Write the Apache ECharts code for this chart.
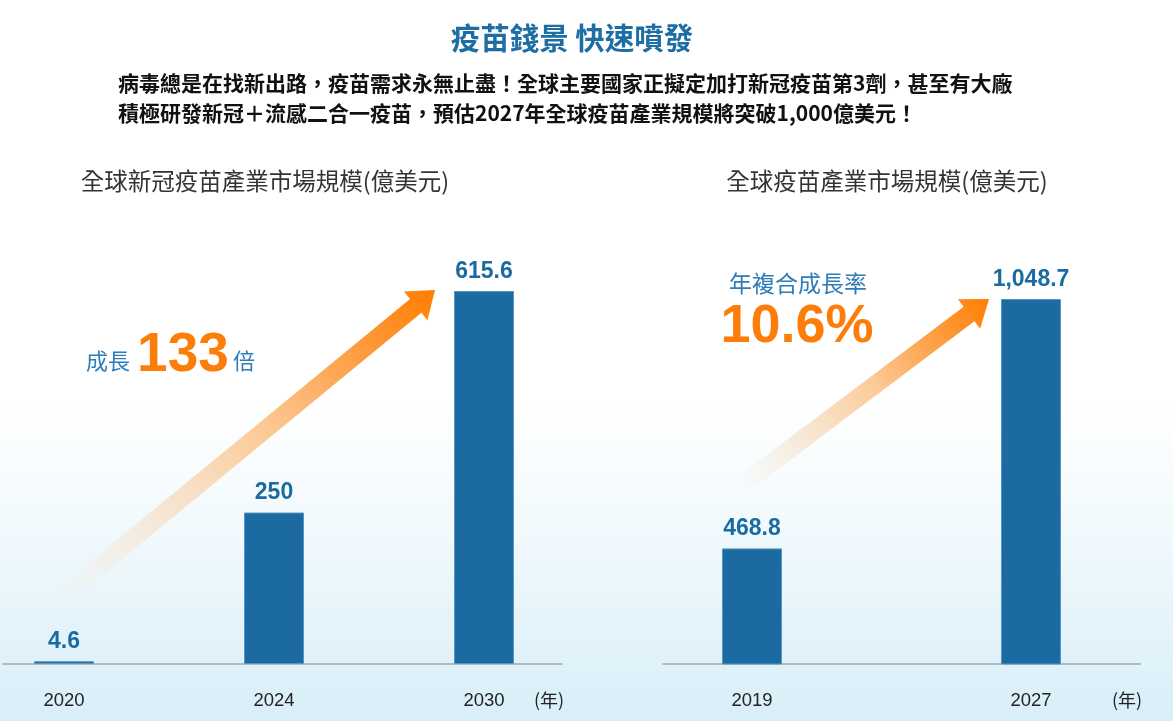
<!DOCTYPE html>
<html>
<head>
<meta charset="utf-8">
<script src="https://cdn.jsdelivr.net/npm/echarts@6/dist/echarts.min.js"></script>
<style>
html,body{margin:0;padding:0;background:#fff;}
#chart{width:1173px;height:721px;}
</style>
</head>
<body>
<div id="chart"></div>
<script>
// ---- data ----
const leftYears = ['2020', '2024', '2030'];
const leftValues = [4.6, 250, 615.6];
const rightYears = ['2019', '2027'];
const rightValues = [468.8, 1048.7];

const mainTitle = '疫苗錢景 快速噴發';
const subLines = [
  '病毒總是在找新出路，疫苗需求永無止盡！全球主要國家正擬定加打新冠疫苗第3劑，甚至有大廠',
  '積極研發新冠＋流感二合一疫苗，預估2027年全球疫苗產業規模將突破1,000億美元！'
];
const leftTitle = '全球新冠疫苗產業市場規模(億美元)';
const rightTitle = '全球疫苗產業市場規模(億美元)';
const unitLabel = '(年)';

const CJK = '"Noto Sans CJK TC","Noto Sans CJK SC",sans-serif';
const NUM = '"Liberation Sans",Arial,sans-serif';
const BLUE = '#1b6ba2';
const ORANGE = '#fd7d0a';

function arrowPoints(sx, sy, tx, ty, shaftHalf, headHalf, headLen) {
  const dx = tx - sx, dy = ty - sy, L = Math.hypot(dx, dy);
  const ux = dx / L, uy = dy / L, nx = -uy, ny = ux;
  const bx = tx - ux * headLen, by = ty - uy * headLen;
  return [
    [sx + nx * shaftHalf, sy + ny * shaftHalf],
    [bx + nx * shaftHalf, by + ny * shaftHalf],
    [bx + nx * headHalf, by + ny * headHalf],
    [tx, ty],
    [bx - nx * headHalf, by - ny * headHalf],
    [bx - nx * shaftHalf, by - ny * shaftHalf],
    [sx - nx * shaftHalf, sy - ny * shaftHalf]
  ];
}
function arrow(sx, sy, tx, ty) {
  return {
    type: 'polygon', z: 1,
    shape: { points: arrowPoints(sx, sy, tx, ty, 9, 18.5, 25) },
    style: {
      fill: new echarts.graphic.LinearGradient(sx, sy, tx, ty, [
        { offset: 0, color: 'rgba(245,236,226,0)' },
        { offset: 0.25, color: 'rgba(246,228,208,0.8)' },
        { offset: 0.55, color: '#fcc996' },
        { offset: 0.8, color: '#fd9c40' },
        { offset: 1, color: '#ff7e00' }
      ], true)
    }
  };
}
function txt(text, x, y, size, color, weight, family, align) {
  return {
    type: 'text', x: x, y: y, z: 5,
    style: {
      text: text, fontSize: size, fill: color, fontWeight: weight || 'normal',
      fontFamily: family || CJK, textAlign: align || 'center', textVerticalAlign: 'middle',
      align: align || 'center', verticalAlign: 'middle'
    }
  };
}

const chart = echarts.init(document.getElementById('chart'), null, { renderer: 'canvas' });

function xAxisCfg(grid, min, max, labels) {
  return {
    type: 'value', gridIndex: grid, min: min, max: max,
    axisLine: { show: true, onZero: false, lineStyle: { color: '#b3bbc2', width: 2 } },
    axisTick: { show: false },
    splitLine: { show: false },
    axisLabel: {
      customValues: labels.map((_, i) => i),
      formatter: v => labels[Math.round(v)] || '',
      margin: 27, fontSize: 18.5, color: '#222', fontFamily: NUM
    }
  };
}
function barSeries(idx, values) {
  return {
    type: 'bar', xAxisIndex: idx, yAxisIndex: idx,
    data: values.map((v, i) => [i, v]),
    barWidth: 60,
    itemStyle: { color: BLUE, borderColor: '#5a95c0', borderWidth: 1 },
    label: {
      show: true, position: 'top', distance: 8,
      formatter: p => p.value[1].toLocaleString('en-US'),
      fontSize: 23, fontWeight: 'bold', color: BLUE, fontFamily: NUM
    },
    silent: true
  };
}

chart.setOption({
  animation: false,
  backgroundColor: new echarts.graphic.LinearGradient(0, 0, 0, 1, [
    { offset: 0, color: '#ffffff' },
    { offset: 0.56, color: '#ffffff' },
    { offset: 0.77, color: '#eef8fc' },
    { offset: 1, color: '#d8eef8' }
  ]),
  grid: [
    { left: 3, right: 611, top: 291, bottom: 57 },
    { left: 663, right: 33, top: 299, bottom: 57 }
  ],
  xAxis: [
    xAxisCfg(0, -0.2905, 2.3714, leftYears),
    xAxisCfg(1, -0.319, 1.3907, rightYears)
  ],
  yAxis: [
    { type: 'value', gridIndex: 0, min: 0, max: 'dataMax', show: false },
    { type: 'value', gridIndex: 1, min: 200, max: 'dataMax', show: false }
  ],
  series: [barSeries(0, leftValues), barSeries(1, rightValues)],
  graphic: [
    txt(mainTitle, 572, 38, 29.5, '#1c6ea4', 'bold'),
    txt(subLines[0], 118, 83, 21, '#111', 'bold', CJK, 'left'),
    txt(subLines[1], 118, 113, 21, '#111', 'bold', CJK, 'left'),
    txt(leftTitle, 265, 181, 23.5, '#333'),
    txt(rightTitle, 887, 181, 23.5, '#333'),
    arrow(58, 600, 435, 290),
    arrow(738, 488, 989, 299),
    txt('成長', 108, 361, 22, '#2f7db8'),
    txt('133', 183, 356, 55, ORANGE, 'bold', NUM),
    txt('倍', 244, 361, 22, '#2f7db8'),
    txt('年複合成長率', 798, 283, 23, '#2f7db8'),
    txt('10.6%', 797, 327, 54, ORANGE, 'bold', NUM),
    txt(unitLabel, 549, 700, 18, '#222'),
    txt(unitLabel, 1127, 700, 18, '#222')
  ]
});
</script>
</body>
</html>
